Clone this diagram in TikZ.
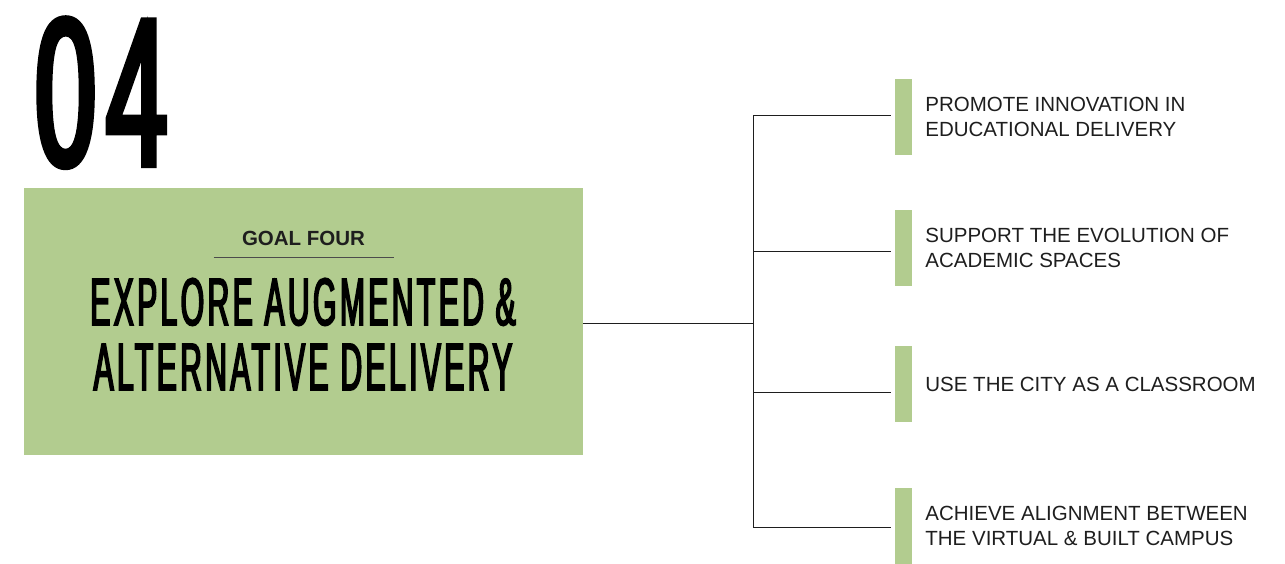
\documentclass[tikz,border=0pt]{standalone}
\usepackage{fontspec}
\setmainfont{Liberation Sans}
\newfontfamily\condfont[FakeStretch=0.45,FakeBold=2.5,LetterSpace=5]{Liberation Sans}
\newfontfamily\bignumfont[FakeStretch=0.52,FakeBold=3,LetterSpace=5]{Liberation Sans}
\usepackage{tikz}
\usetikzlibrary{positioning}
\definecolor{sage}{RGB}{178,204,143}
\definecolor{ink}{RGB}{30,30,30}

\begin{document}
\begin{tikzpicture}[
  x=1pt, y=-1pt,
  font=\fontsize{20.5}{25.5}\selectfont,
  panel/.style = {fill=sage, minimum width=559pt, minimum height=267pt, inner sep=0pt},
  tag/.style   = {font=\fontsize{20.5}{22}\selectfont\bfseries, inner sep=0pt, text=ink},
  head/.style  = {font=\condfont\fontsize{67}{65}\selectfont, inner sep=0pt},
  bar/.style   = {fill=sage, minimum width=17pt, minimum height=76pt, inner sep=0pt},
  item/.style  = {align=left, inner sep=0pt, text=ink},
  link/.style  = {line width=0.9pt, ink},
  rule/.style  = {line width=1pt, ink!80}
]

\def\tgap{13pt}
\useasboundingbox (0,0) rectangle (1285,564);

% ========================== goal panel =====================================
\node[anchor=base west, inner sep=0pt, font=\bignumfont\fontsize{210}{210}\selectfont]
  (num) at (35,165) {04};

\node[panel] (panel) at (303.5,321.5) {};
\node[tag, anchor=base] (goal) at (303.5,245) {GOAL FOUR};
\draw[rule] ([yshift=-12pt]goal.base) ++(-90,0) -- ++(180,0);

\node[head, anchor=base] (title)  at (303,325) {EXPLORE AUGMENTED \&};
\node[head, anchor=base] (titleb) at (303,390) {ALTERNATIVE DELIVERY};

% ========================== objectives =====================================
\node[bar] (bar1) at (903.5,117) {};
\node[bar] (bar2) at (903.5,248) {};
\node[bar] (bar3) at (903.5,384) {};
\node[bar] (bar4) at (903.5,526) {};

\node[item, right=\tgap of bar1] (obj1) {PROMOTE INNOVATION IN\\EDUCATIONAL DELIVERY};
\node[item, right=\tgap of bar2] (obj2) {SUPPORT THE EVOLUTION OF\\ACADEMIC SPACES};
\node[item, right=\tgap of bar3] (obj3) {USE THE CITY AS A CLASSROOM};
\node[item, right=\tgap of bar4] (obj4) {ACHIEVE ALIGNMENT BETWEEN\\THE VIRTUAL \& BUILT CAMPUS};

% tree: trunk from the panel, one branch per bar (lines sit a little off centre)
\coordinate (hub) at (753,323);
\draw[link] (panel.east|-hub) -- (hub);
\foreach \b/\dy in {bar1/2, bar2/-3, bar3/-8, bar4/-1}
  \draw[link] (hub) |- ([xshift=-4pt, yshift=\dy pt]\b.west);

\end{tikzpicture}
\end{document}
